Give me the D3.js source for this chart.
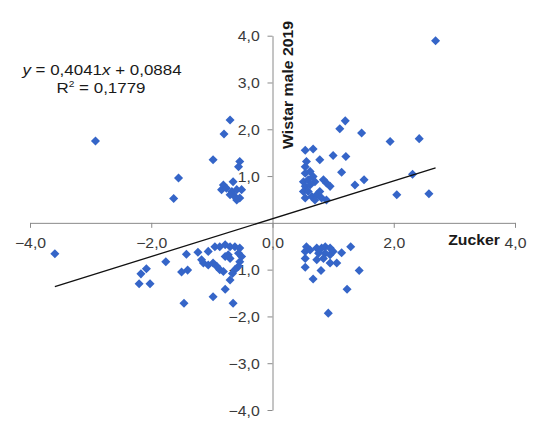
<!DOCTYPE html>
<html>
<head>
<meta charset="utf-8">
<script src="https://cdn.jsdelivr.net/npm/d3@7"></script>
<style>
	body { margin: 0; background: #fff; }
	svg { display: block; }
	text { font-family: "Liberation Sans", Arial, sans-serif; }
</style>
</head>
<body>
<div id="chart"></div>
<script>
// Zucker (x) / Wistar male 2019 (y) pairs
const zucker = [
	// upper left
	-2.92, -1.55, -1.63, -0.70, -0.80, -0.98, -0.54, -0.56, -0.65, -0.81,
	-0.84, -0.76, -0.67, -0.59, -0.51, -0.70, -0.62, -0.54, -0.59,
	// lower left
	-3.59, -1.76, -1.42, -2.17, -2.08, -2.20, -2.02, -1.50, -1.40, -1.23,
	-1.14, -1.17, -1.06, -0.95, -0.98, -0.92, -0.87, -0.78, -0.70, -0.62,
	-0.54, -0.73, -0.70, -0.78, -0.87, -0.81, -0.56, -0.51, -0.54, -0.56,
	-0.62, -0.66, -0.70, -0.78, -0.98, -1.46, -0.65, -1.06,
	// upper right
	1.20, 1.11, 1.47, 1.94, 2.42, 2.31, 2.05, 2.58, 2.69, 0.54,
	0.67, 0.78, 1.00, 1.21, 0.56, 0.54, 1.14, 0.54, 0.62, 0.67,
	0.51, 0.59, 0.54, 0.62, 0.70, 0.84, 0.89, 0.95, 1.36, 1.51,
	0.51, 0.59, 0.54, 0.65, 0.73, 0.78, 0.81, 0.89, 0.70,
	// lower right
	0.56, 0.54, 0.62, 0.73, 0.81, 0.87, 0.95, 0.76, 0.87, 0.95,
	1.00, 1.14, 1.29, 0.54, 0.73, 0.84, 0.95, 1.06, 0.54, 0.80,
	0.67, 1.43, 1.23, 0.92
]
const wistar = [
	1.75, 0.96, 0.52, 2.20, 1.90, 1.35, 1.31, 1.20, 0.88, 0.81,
	0.71, 0.74, 0.67, 0.71, 0.71, 0.60, 0.56, 0.53, 0.49,
	-0.66, -0.83, -0.67, -1.09, -0.98, -1.30, -1.30, -1.05, -1.01, -0.63,
	-0.86, -0.79, -0.61, -0.51, -0.86, -0.93, -0.51, -0.47, -0.51, -0.51,
	-0.54, -0.68, -0.76, -0.72, -1.00, -1.04, -0.65, -0.72, -0.83, -0.93,
	-1.00, -1.08, -1.22, -1.42, -1.58, -1.72, -1.72, -0.90,
	2.18, 2.01, 1.92, 1.74, 1.80, 1.04, 0.60, 0.62, 3.89, 1.55,
	1.58, 1.35, 1.44, 1.42, 1.31, 1.20, 1.08, 1.06, 1.10, 0.99,
	0.88, 0.92, 0.78, 0.81, 0.88, 0.92, 0.85, 0.78, 0.81, 0.92,
	0.67, 0.67, 0.53, 0.56, 0.60, 0.67, 0.53, 0.49, 0.49,
	-0.51, -0.61, -0.58, -0.54, -0.54, -0.51, -0.54, -0.65, -0.65, -0.68,
	-0.61, -0.64, -0.51, -0.76, -0.79, -0.76, -0.86, -0.86, -0.95, -1.02,
	-1.20, -1.02, -1.42, -1.93
]
const xTicks = [-4, -2, 0, 2, 4]
const yTicks = [-4, -3, -2, -1, 1, 2, 3, 4]
const slope = 0.4041
const intercept = 0.0884
const rSquared = '0,1779'

const width = 540
const height = 427
const stretch = 1.13 // the source text is a bit wider than Arial

const locale = d3.formatLocale({ decimal: ',', thousands: '.', grouping: [3], currency: ['', ''], minus: '\u2212' })
const fmt = locale.format('.1f')

const svg = d3.select('#chart')
	.append('svg')
	.attr('width', width)
	.attr('height', height)

const x = d3.scaleLinear().domain([-4, 4]).range([30, 515])
const y = d3.scaleLinear().domain([-4, 4]).range([410, 35.7])

// axes cross at the origin
const xAxis = svg.append('g')
	.attr('transform', `translate(0,${y(0)})`)
	.call(d3.axisBottom(x).tickValues(xTicks).tickSize(5).tickSizeOuter(0).tickFormat(fmt))

const yAxis = svg.append('g')
	.attr('transform', `translate(${x(0)},0)`)
	.call(d3.axisLeft(y).tickValues(yTicks).tickSize(5).tickSizeOuter(0).tickFormat(fmt))

;[xAxis, yAxis].forEach(ax => {
	ax.select('.domain').attr('stroke', '#8a8a8a').attr('stroke-width', 1)
	ax.selectAll('.tick line').attr('stroke', '#8a8a8a')
	ax.selectAll('text')
		.attr('fill', '#3a3a3a')
		.style('font-size', '14px')
		.attr('font-family', null)
})

xAxis.selectAll('text')
	.attr('y', 25)
	.attr('dy', 0)
	.attr('transform', `scale(${stretch},1)`)

yAxis.selectAll('text')
	.attr('x', -12.7 / stretch)
	.attr('dy', 5)
	.attr('transform', `scale(${stretch},1)`)

// the y "0,0" label is mostly hidden behind the x axis in the source
svg.append('clipPath').attr('id', 'zero-clip')
	.append('rect').attr('x', 240).attr('y', 200).attr('width', 18).attr('height', 26)
svg.append('text')
	.attr('clip-path', 'url(#zero-clip)')
	.attr('transform', `translate(257,${y(0) + 5}) scale(${stretch},1)`)
	.attr('text-anchor', 'end')
	.attr('fill', '#3a3a3a')
	.style('font-size', '14px')
	.text('0')

// markers
const points = zucker.map((v, i) => ({ x: v, y: wistar[i] }))
const diamond = d3.symbol(d3.symbolSquare, 41)

svg.append('g')
	.selectAll('path')
	.data(points)
	.join('path')
	.attr('d', diamond)
	.attr('transform', d => `translate(${x(d.x)},${y(d.y)}) rotate(45)`)
	.attr('fill', '#3565c8')

// linear trendline over the data range
const xMin = d3.min(zucker)
const xMax = d3.max(zucker)
svg.append('line')
	.attr('x1', x(xMin))
	.attr('y1', y(slope * xMin + intercept))
	.attr('x2', x(xMax))
	.attr('y2', y(slope * xMax + intercept))
	.attr('stroke', '#111')
	.attr('stroke-width', 1.3)

// axis titles
svg.append('text')
	.attr('transform', `translate(500,244.5) scale(${stretch},1)`)
	.attr('text-anchor', 'end')
	.attr('fill', '#1a1a1a')
	.style('font-size', '14px')
	.style('font-weight', 'bold')
	.text('Zucker')

svg.append('text')
	.attr('transform', `translate(292.5,149) rotate(-90) scale(${stretch},1)`)
	.attr('text-anchor', 'start')
	.attr('fill', '#1a1a1a')
	.style('font-size', '14px')
	.style('font-weight', 'bold')
	.text('Wistar male 2019')

// equation
const eq = svg.append('g').attr('fill', '#1a1a1a').style('font-size', '15px')

const line1 = eq.append('text')
	.attr('transform', `translate(102,74.5) scale(${stretch},1)`)
	.attr('text-anchor', 'middle')
line1.append('tspan').style('font-style', 'italic').text('y')
line1.append('tspan').text(` = ${locale.format('.4f')(slope)}`)
line1.append('tspan').style('font-style', 'italic').text('x')
line1.append('tspan').text(` + ${locale.format('.4f')(intercept)}`)

const line2 = eq.append('text')
	.attr('transform', `translate(101,92.5) scale(${stretch},1)`)
	.attr('text-anchor', 'middle')
line2.append('tspan').text('R')
line2.append('tspan').attr('dy', -6).style('font-size', '9px').text('2')
line2.append('tspan').attr('dy', 6).text(` = ${rSquared}`)
</script>
</body>
</html>
